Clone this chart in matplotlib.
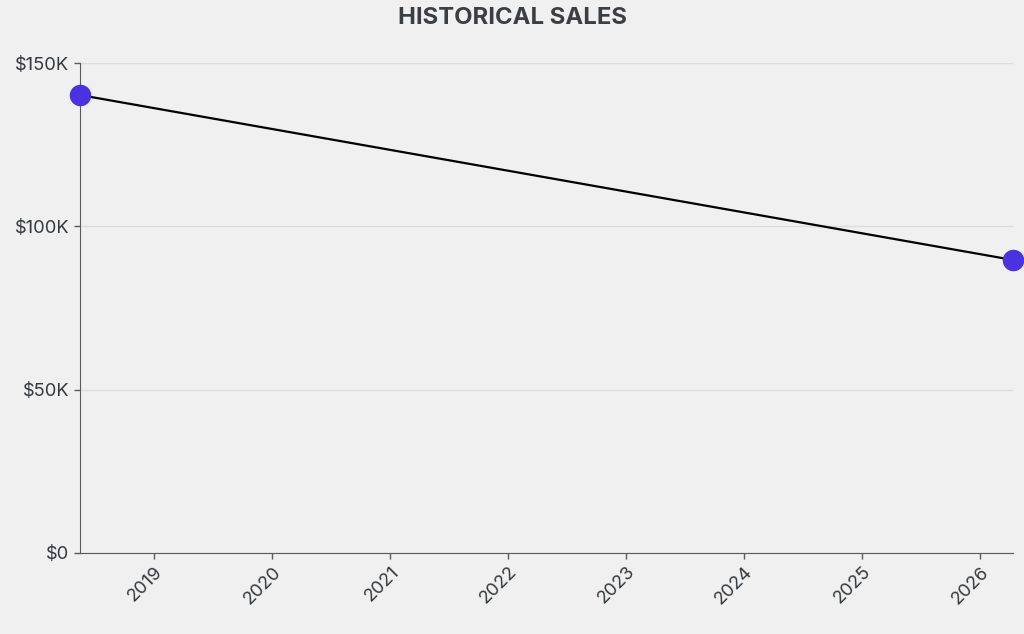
import matplotlib
matplotlib.use("Agg")
import matplotlib.pyplot as plt
import matplotlib.dates as mdates
from matplotlib.ticker import FuncFormatter
from datetime import datetime

# data
dates = [datetime(2018, 5, 16), datetime(2026, 4, 12)]
sales = [140200, 89700]
title = "HISTORICAL SALES"

plt.rcParams['font.family'] = ['Inter', 'DejaVu Sans']

bg = '#f0f0f0'
fig = plt.figure(figsize=(10.24, 6.34), dpi=100, facecolor=bg)
ax = fig.add_axes([0.0781, 0.1278, 0.9112, 0.7728], facecolor=bg)

ax.plot(dates, sales, color='black', lw=1.6, zorder=3)
ax.scatter(dates, sales, s=210, color='#4a32e0', zorder=4, clip_on=False)

ax.set_xlim(dates[0], dates[-1])
ax.set_ylim(0, 150000)
ax.set_yticks([0, 50000, 100000, 150000])
ax.yaxis.set_major_formatter(FuncFormatter(lambda v, p: '$0' if v == 0 else f'${int(v/1000)}K'))
ax.xaxis.set_major_locator(mdates.YearLocator())
ax.xaxis.set_major_formatter(mdates.DateFormatter('%Y'))

ax.grid(axis='y', color='#dcdcdc', lw=1)
ax.set_axisbelow(True)
for s in ['top', 'right']:
    ax.spines[s].set_visible(False)
for s in ['left', 'bottom']:
    ax.spines[s].set_color('#5a5a5a')
ax.tick_params(colors='#5a5a5a', labelcolor='#333a3f', labelsize=13.2, length=4, width=1, pad=3.5)
plt.setp(ax.get_xticklabels(), rotation=45, ha='right', rotation_mode='anchor')

fig.text(0.5, 0.972, title, ha='center', va='center', fontsize=17.2, fontweight='bold', color='#3a3f44')

fig.savefig('out.png', dpi=100, facecolor=bg)
